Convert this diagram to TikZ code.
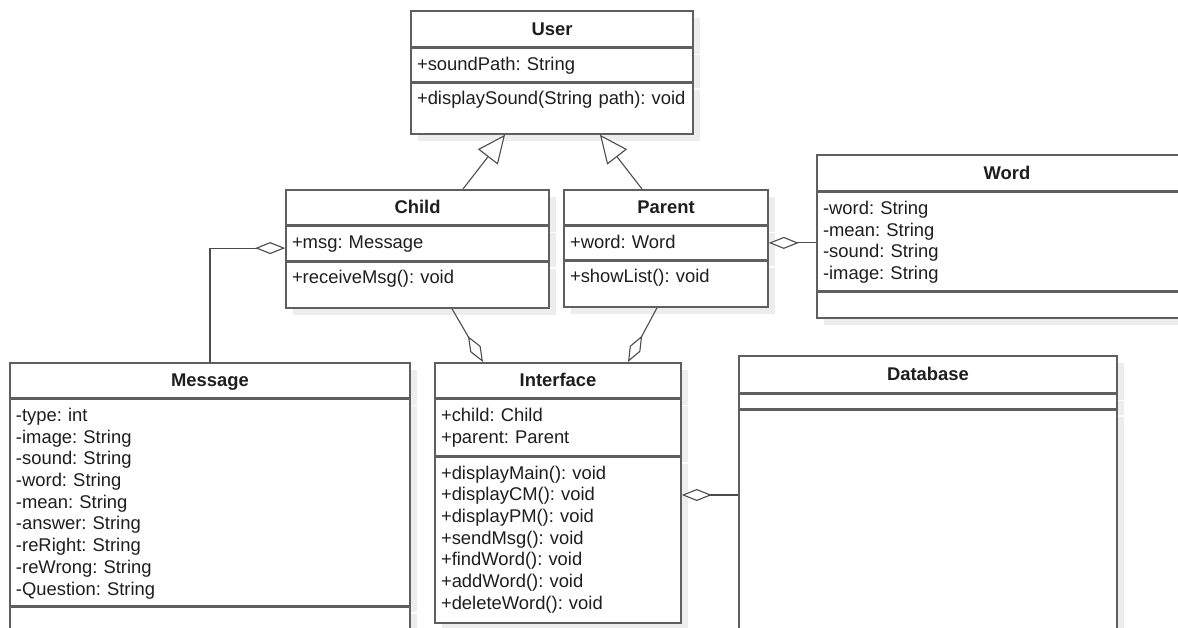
\documentclass[tikz,border=0pt]{standalone}
\usepackage{fontspec}
\setmainfont{Liberation Sans}
\usetikzlibrary{positioning,arrows.meta,shadows}
\frenchspacing

\definecolor{umlgray}{RGB}{95,95,95}
\definecolor{umltext}{RGB}{30,30,30}

\tikzset{
  classname/.style={draw=umlgray, line width=1.6pt, fill=white, text=umltext,
    drop shadow={shadow xshift=7pt, shadow yshift=-7pt, fill=black, opacity=0.07},
    font=\fontsize{18.4}{21.7}\selectfont\bfseries, align=center,
    inner xsep=6pt, inner ysep=0pt, text height=13pt, text depth=0pt,
    minimum height=#1, anchor=north},
  classpart/.style={draw=umlgray, line width=1.6pt, fill=white, text=umltext,
    drop shadow={shadow xshift=7pt, shadow yshift=-7pt, fill=black, opacity=0.07},
    font=\fontsize{18.4}{21.7}\selectfont, align=left,
    inner xsep=6pt, inner ysep=0pt, text height=22pt, text depth=#1},
  gen/.style={draw=umlgray!80!black, line width=1.1pt,
    -{Triangle[fill=white, length=28pt, width=25pt]}},
  aggr/.style={draw=umlgray!80!black, line width=1.1pt,
    -{Diamond[fill=white, length=30pt, width=12pt]}}
}

\begin{document}
\begin{tikzpicture}[x=1pt, y=-1pt]
\clip (0,0) rectangle (1178,628);

% classes
\node (user)[classname=36pt, text width=270pt] at (552,10) {User};
\node (user-attr)[classpart=11pt, text width=270pt, below=0pt of user] {+soundPath: String};
\node (user-ops)[classpart=29pt, text width=270pt, below=0pt of user-attr] {+displaySound(String path): void};

\node (child)[classname=35pt, text width=251pt] at (417.5,189) {Child};
\node (child-attr)[classpart=12pt, text width=251pt, below=0pt of child] {+msg: Message};
\node (child-ops)[classpart=24pt, text width=251pt, below=0pt of child-attr] {+receiveMsg(): void};

\node (parent)[classname=35pt, text width=192pt] at (666,189) {Parent};
\node (parent-attr)[classpart=11pt, text width=192pt, below=0pt of parent] {+word: Word};
\node (parent-ops)[classpart=24pt, text width=192pt, below=0pt of parent-attr] {+showList(): void};

\node (word)[classname=36pt, text width=368pt] at (1007,154) {Word};
\node (word-attr)[classpart=76pt, text width=368pt, below=0pt of word]
  {-word: String\\-mean: String\\-sound: String\\-image: String};
\node (word-ops)[classpart=4pt, text width=368pt, below=0pt of word-attr] {};

\node (message)[classname=35pt, text width=388pt] at (210,362) {Message};
\node (message-attr)[classpart=184pt, text width=388pt, below=0pt of message]
  {-type: int\\-image: String\\-sound: String\\-word: String\\-mean: String\\-answer: String\\-reRight: String\\-reWrong: String\\-Question: String};
\node (message-ops)[classpart=38pt, text width=388pt, below=0pt of message-attr] {};

\node (interface)[classname=35pt, text width=234pt] at (558,362) {Interface};
\node (interface-attr)[classpart=34pt, text width=234pt, below=0pt of interface]
  {+child: Child\\+parent: Parent};
\node (interface-ops)[classpart=144pt, text width=234pt, below=0pt of interface-attr]
  {+displayMain(): void\\+displayCM(): void\\+displayPM(): void\\+sendMsg(): void\\+findWord(): void\\+addWord(): void\\+deleteWord(): void};

\node (database)[classname=37pt, text width=366pt] at (928,355) {Database};
\node (database-attr)[classpart=14pt, text height=0pt, text width=366pt, below=0pt of database] {};
\node (database-ops)[classpart=280pt, text width=366pt, below=0pt of database-attr] {};

% relations
\draw[gen] ([xshift=45.5pt]child.north) -- ([xshift=-47pt]user-ops.south);
\draw[gen] ([xshift=-24pt]parent.north) -- ([xshift=48pt]user-ops.south);
\draw[aggr] (message.north) |- ([yshift=-4.7pt]child-attr.west);
\draw[aggr] (word-attr.west |- parent-attr.east) -- (parent-attr.east);
\draw[aggr] ([xshift=34.5pt]child-ops.south) -- ([xshift=-75pt]interface.north);
\draw[aggr] ([xshift=-9pt]parent-ops.south) -- ([xshift=70pt]interface.north);
\path ([yshift=45pt]interface-ops.east) coordinate (ifc-db);
\draw[aggr] (database-ops.west |- ifc-db) -- (ifc-db);
\end{tikzpicture}
\end{document}
